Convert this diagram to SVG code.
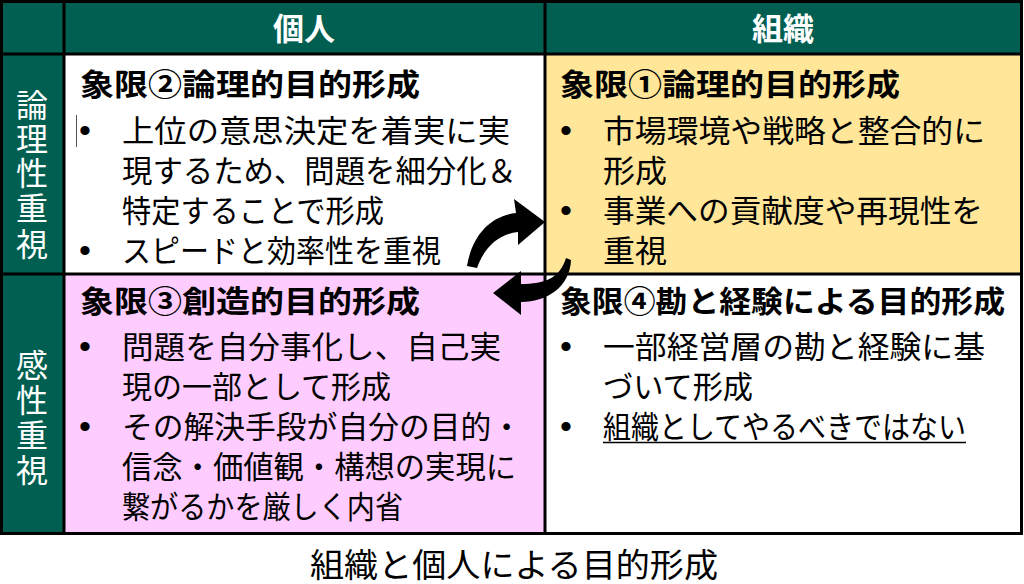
<svg xmlns="http://www.w3.org/2000/svg" width="1024" height="584" viewBox="0 0 1024 584">
<style>
text{font-family:"Liberation Sans","Noto Sans CJK JP",sans-serif;fill:#000}
.hd{font-size:31px;font-weight:bold;fill:#fff}
.side{font-size:32px;fill:#fff}
.ttl{font-size:30px;font-weight:bold}
.body{font-size:31px}
.bul{font-size:34px}
.cap{font-size:33px}
.grid{stroke:#000;stroke-width:3;fill:none}
</style>
<rect width="1024" height="584" fill="#fff"/>
<g id="header">
<rect x="0" y="0" width="1022" height="54" fill="#005F51"/>
<text class="hd" x="304" y="40" text-anchor="middle">個人</text>
<text class="hd" x="783" y="40" text-anchor="middle">組織</text>
</g>
<g id="side-logic">
<rect x="0" y="54" width="64" height="220" fill="#005F51"/>
<text class="side" x="32" text-anchor="middle"><tspan x="32" y="117">論</tspan><tspan x="32" y="151">理</tspan><tspan x="32" y="185">性</tspan><tspan x="32" y="220">重</tspan><tspan x="32" y="256">視</tspan></text>
</g>
<g id="side-sense">
<rect x="0" y="274" width="64" height="260" fill="#005F51"/>
<text class="side" x="32" text-anchor="middle"><tspan x="32" y="377">感</tspan><tspan x="32" y="412">性</tspan><tspan x="32" y="447">重</tspan><tspan x="32" y="482">視</tspan></text>
</g>
<g id="q2">
<rect x="64" y="54" width="481" height="220" fill="#fff"/>
<text class="ttl" x="80" y="95" textLength="340" lengthAdjust="spacingAndGlyphs">象限②論理的目的形成</text>
<line x1="76.5" y1="115" x2="76.5" y2="147" stroke="#555" stroke-width="1"/>
<text class="bul" x="85" y="142" text-anchor="middle">•</text>
<text class="body" x="122" y="142" textLength="388" lengthAdjust="spacingAndGlyphs">上位の意思決定を着実に実</text>
<text class="body" x="122" y="182" textLength="395" lengthAdjust="spacingAndGlyphs">現するため、問題を細分化＆</text>
<text class="body" x="122" y="222" textLength="262" lengthAdjust="spacingAndGlyphs">特定することで形成</text>
<text class="bul" x="85" y="262" text-anchor="middle">•</text>
<text class="body" x="122" y="262" textLength="319" lengthAdjust="spacingAndGlyphs">スピードと効率性を重視</text>
</g>
<g id="q1">
<rect x="545" y="54" width="477" height="220" fill="#FFE699"/>
<text class="ttl" x="560" y="95" textLength="340" lengthAdjust="spacingAndGlyphs">象限①論理的目的形成</text>
<text class="bul" x="566" y="142" text-anchor="middle">•</text>
<text class="body" x="603" y="142" textLength="382" lengthAdjust="spacingAndGlyphs">市場環境や戦略と整合的に</text>
<text class="body" x="603" y="182" textLength="64" lengthAdjust="spacingAndGlyphs">形成</text>
<text class="bul" x="566" y="222" text-anchor="middle">•</text>
<text class="body" x="603" y="222" textLength="380" lengthAdjust="spacingAndGlyphs">事業への貢献度や再現性を</text>
<text class="body" x="603" y="262" textLength="64" lengthAdjust="spacingAndGlyphs">重視</text>
</g>
<g id="q3">
<rect x="64" y="274" width="481" height="260" fill="#FFCCFF"/>
<text class="ttl" x="80" y="312" textLength="340" lengthAdjust="spacingAndGlyphs">象限③創造的目的形成</text>
<text class="bul" x="85" y="358" text-anchor="middle">•</text>
<text class="body" x="122" y="358" textLength="379" lengthAdjust="spacingAndGlyphs">問題を自分事化し、自己実</text>
<text class="body" x="122" y="398" textLength="269" lengthAdjust="spacingAndGlyphs">現の一部として形成</text>
<text class="bul" x="85" y="438" text-anchor="middle">•</text>
<text class="body" x="122" y="438" textLength="400" lengthAdjust="spacingAndGlyphs">その解決手段が自分の目的・</text>
<text class="body" x="122" y="478" textLength="394" lengthAdjust="spacingAndGlyphs">信念・価値観・構想の実現に</text>
<text class="body" x="122" y="518" textLength="281" lengthAdjust="spacingAndGlyphs">繋がるかを厳しく内省</text>
</g>
<g id="q4">
<rect x="545" y="274" width="477" height="260" fill="#fff"/>
<text class="ttl" x="560" y="312" textLength="445" lengthAdjust="spacingAndGlyphs">象限④勘と経験による目的形成</text>
<text class="bul" x="566" y="358" text-anchor="middle">•</text>
<text class="body" x="603" y="358" textLength="382" lengthAdjust="spacingAndGlyphs">一部経営層の勘と経験に基</text>
<text class="body" x="603" y="398" textLength="150" lengthAdjust="spacingAndGlyphs">づいて形成</text>
<text class="bul" x="566" y="438" text-anchor="middle">•</text>
<text class="body" x="603" y="438" textLength="363" lengthAdjust="spacingAndGlyphs">組織としてやるべきではない</text>
<line x1="603" y1="442.5" x2="966" y2="442.5" stroke="#000" stroke-width="1.5"/>
</g>
<g id="grid">
<rect class="grid" x="1.5" y="1.5" width="1020" height="532"/>
<line class="grid" x1="0" y1="54" x2="1022" y2="54"/>
<line class="grid" x1="0" y1="274" x2="1022" y2="274"/>
<line class="grid" x1="64" y1="0" x2="64" y2="534"/>
<line class="grid" x1="545" y1="0" x2="545" y2="534"/>
</g>
<g id="connectors" fill="#000">
<path d="M 467 266 C 472 236, 490 216, 516 213 L 514 199 L 545 222 L 518 245 L 518 232 C 498 234, 484 248, 477 268 Z"/>
<path d="M 566 258 C 560 278, 545 284, 521 284 L 521 271 L 493 293 L 521 315 L 521 302 C 548 302, 570 286, 571 260 Z"/>
</g>
<text class="cap" x="514" y="577" text-anchor="middle" textLength="408" lengthAdjust="spacingAndGlyphs">組織と個人による目的形成</text>
</svg>
